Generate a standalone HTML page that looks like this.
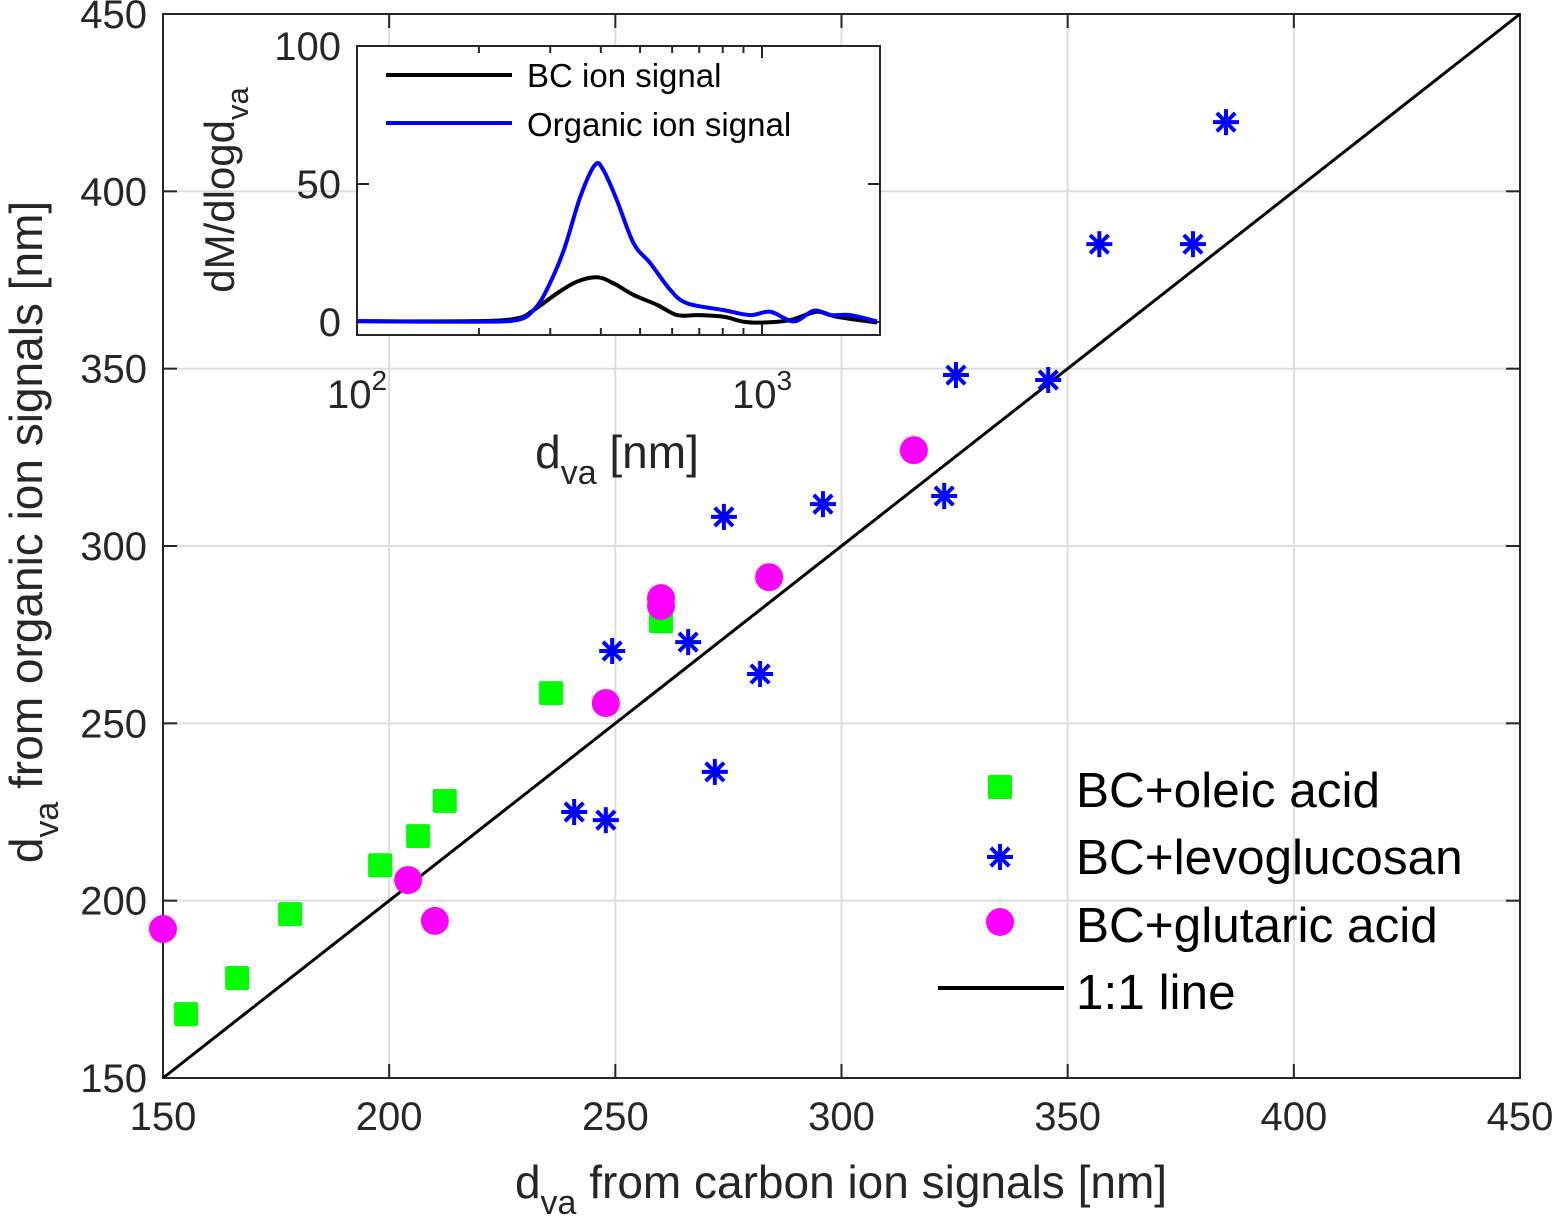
<!DOCTYPE html>
<html><head><meta charset="utf-8"><style>
body{margin:0;background:#fff}
svg{display:block;font-family:"Liberation Sans",sans-serif}
</style></head><body>
<svg id="c" width="1553" height="1222" xmlns="http://www.w3.org/2000/svg"></svg>
<script>
const oleicX=[155.1,166.4,178.1,198.0,206.4,212.3,235.8,260.1];
const oleicY=[168.0,178.2,196.2,210.0,218.2,228.1,258.5,278.8];
const levoX=[385.0,357.0,377.7,325.3,345.7,295.9,322.7,274.0,249.3,266.1,282.0,272.0,240.9,247.9];
const levoY=[419.5,385.1,385.1,348.2,346.8,311.8,314.1,308.2,270.4,272.9,263.9,236.3,225.0,222.7];
const glutX=[150,204.2,210.1,247.9,260.1,260.1,284.0,316.0];
const glutY=[192.0,205.8,194.3,255.7,285.3,283.1,291.2,327.0];
const ticks=[150,200,250,300,350,400,450];
const insD_org=[100,194,248,273,294,324,356,387,406,438,482,530,594,653,804,935,1049,1198,1342,1476,1652,1923];
const insV_org=[0.3,0.1,0.7,4.3,11.6,26,45.4,56.9,55,44.2,28.5,21.3,11.6,6.8,4.3,2.5,3.7,0.2,4.1,2.5,2.5,0.2];
const insD_bc=[100,194,248,273,312,349,392,430,482,551,617,692,804,901,1009,1175,1367,1530,1923];
const insV_bc=[0.3,0.3,1.3,4.3,10.4,14.6,16.2,14,9.8,6.2,2.5,2.5,1.9,0.1,-0.2,0.7,3.7,1.9,-0.2];
const insYTicks=[0,50,100];

const NS="http://www.w3.org/2000/svg";
const svg=document.getElementById('c');
function el(t,a,p){const e=document.createElementNS(NS,t);for(const k in a)e.setAttribute(k,a[k]);(p||svg).appendChild(e);return e;}
const X0=163,X1=1520,Y0=1078,Y1=14;
const sx=v=>X0+(v-150)/300*(X1-X0);
const sy=v=>Y0-(v-150)/300*(Y0-Y1);
const grid=el('g',{});

ticks.forEach(t=>{
 el('line',{x1:sx(t),x2:sx(t),y1:Y1,y2:Y0,stroke:'#dcdcdc','stroke-width':2},grid);
 el('line',{x1:X0,x2:X1,y1:sy(t),y2:sy(t),stroke:'#dcdcdc','stroke-width':2},grid);
});
const xt=el('g',{'font-size':40,fill:'#262626','text-anchor':'middle'});

const yt=el('g',{'font-size':40,fill:'#262626','text-anchor':'end'});

ticks.forEach(t=>{
 el('line',{x1:sx(t),x2:sx(t),y1:Y0,y2:Y0-14,stroke:'#262626','stroke-width':2});
 el('line',{x1:sx(t),x2:sx(t),y1:Y1,y2:Y1+14,stroke:'#262626','stroke-width':2});
 el('line',{x1:X0,x2:X0+14,y1:sy(t),y2:sy(t),stroke:'#262626','stroke-width':2});
 el('line',{x1:X1,x2:X1-14,y1:sy(t),y2:sy(t),stroke:'#262626','stroke-width':2});
 el('text',{x:sx(t),y:Y0+52},xt).textContent=t;
 el('text',{x:X0-16,y:sy(t)+14},yt).textContent=t;
});
const fr=el('rect',{x:X0,y:Y1,width:X1-X0,height:Y0-Y1,fill:'none',stroke:'#262626','stroke-width':2});

const xl=el('text',{x:841,y:1198,'font-size':46,fill:'#262626','text-anchor':'middle'});

xl.innerHTML='d<tspan dy="16" font-size="34">va</tspan><tspan dy="-16"> from carbon ion signals [nm]</tspan>';
const yl=el('text',{transform:'translate(42,532) rotate(-90)','font-size':46,fill:'#262626','text-anchor':'middle'});

yl.innerHTML='d<tspan dy="16" font-size="34">va</tspan><tspan dy="-16"> from organic ion signals [nm]</tspan>';
const ln=el('line',{x1:sx(150),y1:sy(150),x2:sx(450),y2:sy(450),stroke:'#000','stroke-width':3});

function star(g,x,y){const r=13;for(let a=0;a<4;a++){const an=a*Math.PI/4+Math.PI/2;el('line',{x1:x-r*Math.cos(an),y1:y-r*Math.sin(an),x2:x+r*Math.cos(an),y2:y+r*Math.sin(an),stroke:'#0000ff','stroke-width':4},g);}}
const go=el('g',{});
oleicX.forEach((v,i)=>{const r=el('rect',{x:sx(v)-12,y:sy(oleicY[i])-12,width:24,height:24,fill:'#00ff00',rx:2},go);
});
const gl=el('g',{});
levoX.forEach((v,i)=>star(gl,sx(v),sy(levoY[i])));
const gg=el('g',{});
glutX.forEach((v,i)=>{const c=el('circle',{cx:sx(v),cy:sy(glutY[i]),r:14,fill:'#ff00ff'},gg);
});
const lg=el('g',{'font-size':49.5,fill:'#000'});
el('rect',{x:988,y:775,width:24,height:24,fill:'#00ff00',rx:2},lg);
el('text',{x:1076,y:807},lg).textContent='BC+oleic acid';
star(lg,1000,857);
el('text',{x:1076,y:874},lg).textContent='BC+levoglucosan';
el('circle',{cx:1000,cy:922,r:14,fill:'#ff00ff'},lg);
el('text',{x:1076,y:942},lg).textContent='BC+glutaric acid';
el('line',{x1:938,x2:1064,y1:988,y2:988,stroke:'#000','stroke-width':4},lg);
el('text',{x:1076,y:1009},lg).textContent='1:1 line';
const IX0=357,IX1=880,IY0=335,IY1=46;
const ix=d=>IX0+(Math.log10(d)-2)*405;
const iy=v=>322-v*2.76;
const ins=el('g',{});
el('rect',{x:IX0,y:IY1,width:IX1-IX0,height:IY0-IY1,fill:'#fff'},ins);
[200,300,400,500,600,700,800,900,2000].forEach(d=>{if(ix(d)<IX1){
 el('line',{x1:ix(d),x2:ix(d),y1:IY0,y2:IY0-7,stroke:'#262626','stroke-width':2},ins);
 el('line',{x1:ix(d),x2:ix(d),y1:IY1,y2:IY1+7,stroke:'#262626','stroke-width':2},ins);}});
[100,1000].forEach(d=>{
 el('line',{x1:ix(d),x2:ix(d),y1:IY0,y2:IY0-12,stroke:'#262626','stroke-width':2},ins);
 el('line',{x1:ix(d),x2:ix(d),y1:IY1,y2:IY1+12,stroke:'#262626','stroke-width':2},ins);});
insYTicks.forEach(t=>{
 el('line',{x1:IX0,x2:IX0+12,y1:iy(t),y2:iy(t),stroke:'#262626','stroke-width':2},ins);
 el('line',{x1:IX1,x2:IX1-12,y1:iy(t),y2:iy(t),stroke:'#262626','stroke-width':2},ins);
 el('text',{x:IX0-16,y:iy(t)+14,'font-size':40,fill:'#262626','text-anchor':'end'},ins).textContent=t;
});
const t1=el('text',{x:ix(100),y:408,'font-size':40,fill:'#262626','text-anchor':'middle'},ins);t1.innerHTML='10<tspan dy="-18" font-size="28">2</tspan>';
const t2=el('text',{x:ix(1000),y:408,'font-size':40,fill:'#262626','text-anchor':'middle'},ins);t2.innerHTML='10<tspan dy="-18" font-size="28">3</tspan>';
const ixl=el('text',{x:617,y:468,'font-size':46,fill:'#262626','text-anchor':'middle'},ins);

ixl.innerHTML='d<tspan dy="16" font-size="34">va</tspan><tspan dy="-16"> [nm]</tspan>';
const iyl=el('text',{transform:'translate(234,190) rotate(-90)','font-size':42,fill:'#262626','text-anchor':'middle'},ins);

iyl.innerHTML='dM/dlogd<tspan dy="14" font-size="31">va</tspan>';
const pth=(D,V)=>{const P=D.map((d,i)=>[ix(d),iy(V[i])]);let s='M'+P[0][0]+','+P[0][1];
 for(let i=0;i<P.length-1;i++){const p0=P[Math.max(0,i-1)],p1=P[i],p2=P[i+1],p3=P[Math.min(P.length-1,i+2)];
 s+=`C${p1[0]+(p2[0]-p0[0])/6},${p1[1]+(p2[1]-p0[1])/6} ${p2[0]-(p3[0]-p1[0])/6},${p2[1]-(p3[1]-p1[1])/6} ${p2[0]},${p2[1]}`;}return s;};
const pb=el('path',{d:pth(insD_bc,insV_bc),fill:'none',stroke:'#000','stroke-width':4,'stroke-linejoin':'round'},ins);

const po=el('path',{d:pth(insD_org,insV_org),fill:'none',stroke:'#0000ff','stroke-width':4,'stroke-linejoin':'round'},ins);

el('rect',{x:IX0,y:IY1,width:IX1-IX0,height:IY0-IY1,fill:'none',stroke:'#262626','stroke-width':2},ins);
const il=el('g',{'font-size':33,fill:'#000'},ins);
el('line',{x1:386,x2:512,y1:75,y2:75,stroke:'#000','stroke-width':4},il);
el('text',{x:527,y:87},il).textContent='BC ion signal';
el('line',{x1:386,x2:512,y1:123,y2:123,stroke:'#0000ff','stroke-width':4},il);
el('text',{x:527,y:136},il).textContent='Organic ion signal';
</script>
</body></html>
